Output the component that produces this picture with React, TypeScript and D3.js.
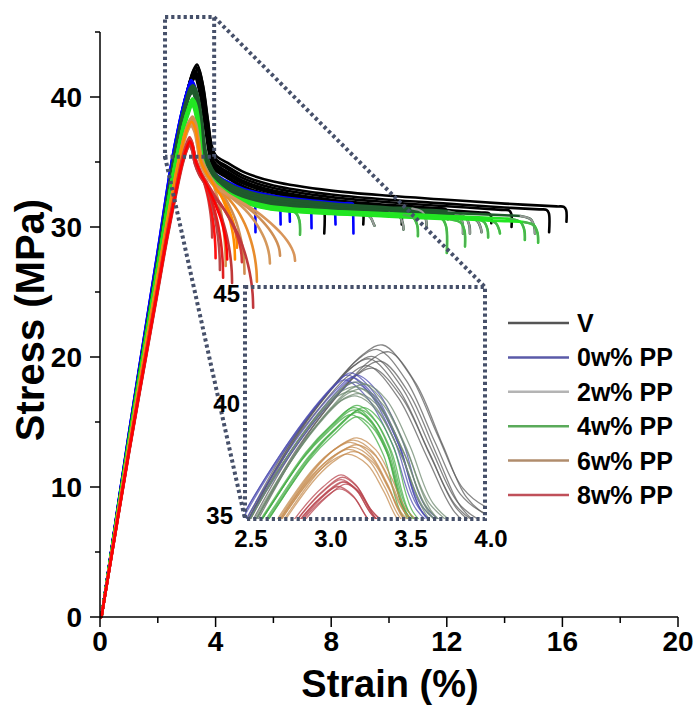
import React from 'react';
import * as d3 from 'd3';

type Pt = [number, number];

// ---------- axis ticks ----------
const xMajorTicks = [0, 4, 8, 12, 16, 20];
const xMinorTicks = [2, 6, 10, 14, 18];
const yMajorTicks = [0, 10, 20, 30, 40];
const yMinorTicks = [5, 15, 25, 35, 45];
const insetXTicks = [2.5, 3.0, 3.5, 4.0];
const insetYTicks = [35, 40, 45];
const insetStrain: Pt = [2.5, 4.0];
const insetStress: Pt = [35, 45];
const zoomBoxStrain: Pt = [2.25, 3.95];
const zoomBoxStress: Pt = [35.4, 46.15];

// ---------- legend ----------
const groupNames = ['V', '0w% PP', '2w% PP', '4w% PP', '6w% PP', '8w% PP'];
const legendColors = ['#555555', '#5a5aa8', '#b4b4b4', '#5aaa5a', '#b08c6c', '#c0505a'];
const insetColors = ['#5e5e5e', '#4e4eb0', '#6f8a70', '#45ad45', '#c68c50', '#b8444e'];

// ---------- group templates (strain %, stress MPa) ----------
const riseV: Pt[] = [[0.05, 0], [1, 13.9], [2, 27.8], [2.5, 34.7], [2.8, 38.4], [3.05, 40.7], [3.2, 41.8], [3.32, 42.2]];
const postV: Pt[] = [[3.5, 40.8], [3.68, 38.1], [3.84, 35.8], [4.0, 34.9], [4.4, 34.2], [5, 33.4], [6, 32.7], [8, 32.0], [10, 31.6], [12, 31.3], [14, 31.0], [16.5, 30.7]];
const rise0: Pt[] = [[0.05, 0], [1, 14.0], [2, 27.9], [2.5, 35.0], [2.74, 37.7], [2.95, 39.7], [3.08, 40.7], [3.16, 41.1]];
const post0: Pt[] = [[3.3, 40.3], [3.45, 38.3], [3.6, 35.4], [3.8, 34.3], [4.0, 33.8], [4.4, 33.2], [5, 32.6], [6, 32.1], [8, 31.6], [10, 31.3]];
const rise2: Pt[] = [[0.05, 0], [1, 13.7], [2, 27.3], [2.5, 34.3], [2.8, 37.8], [3.0, 39.6], [3.12, 40.4], [3.22, 40.6]];
const post2: Pt[] = [[3.35, 39.9], [3.5, 37.9], [3.65, 35.4], [3.85, 34.2], [4.0, 33.7], [4.4, 33.0], [5, 32.4], [6, 31.9], [8, 31.4], [10, 31.1], [12, 30.9], [14, 30.7], [16, 30.5]];
const rise4: Pt[] = [[0.05, 0], [1, 13.5], [2, 26.9], [2.5, 33.6], [2.7, 35.8], [2.9, 37.8], [3.05, 38.9], [3.2, 39.7]];
const post4: Pt[] = [[3.3, 39.2], [3.4, 37.9], [3.52, 35.2], [3.7, 34.1], [4.0, 33.3], [4.6, 32.3], [5.78, 31.5], [8, 31.1], [10, 30.9], [12, 30.7], [14, 30.5], [16, 30.3]];
const rise6: Pt[] = [[0.05, 0], [1, 13.1], [2, 26.2], [2.4, 31.3], [2.72, 35.0], [2.95, 37.2], [3.08, 38.0], [3.18, 38.3]];
const post6: Pt[] = [[3.3, 37.8], [3.4, 36.6], [3.5, 35.2], [3.7, 34.2], [4.0, 33.2], [4.5, 32.4], [5, 31.9], [5.5, 31.4], [6, 30.9], [7, 30.0]];
const rise8: Pt[] = [[0.05, 0], [1, 12.7], [2, 25.3], [2.3, 29.1], [2.6, 32.5], [2.84, 35.0], [3.0, 36.2], [3.11, 36.7]];
const post8: Pt[] = [[3.2, 36.3], [3.3, 35.2], [3.45, 34.3], [3.6, 33.7], [3.8, 33.0], [4.0, 32.4], [4.5, 31.5], [5.5, 30.3]];

// ---------- specimens ----------
const vPeakStress = [42.5, 42.3, 42.0, 41.9, 41.8, 41.6, 41.5, 42.2];
const vPeakStrain = [3.36, 3.33, 3.30, 3.28, 3.35, 3.27, 3.30, 3.40];
const vShift = [0.8, 0.5, 0.1, -0.1, -0.3, -0.4, 0.0, 0.3];
const vEndStrain = [16.1, 15.5, 12.0, 10.4, 9.07, 7.72, 13.5, 14.2];
const vEndStress = [30.4, 29.6, 30.6, 30.2, 30.2, 29.5, 30.3, 30.0];

const p0PeakStress = [41.3, 41.2, 41.1, 41.0, 40.9, 41.2];
const p0PeakStrain = [3.16, 3.14, 3.17, 3.12, 3.18, 3.2];
const p0Shift = [0.2, 0.0, -0.2, 0.1, -0.1, 0.3];
const p0EndStrain = [5.36, 6.23, 6.55, 7.3, 8.13, 8.75];
const p0EndStress = [29.6, 30.2, 30.4, 29.9, 30.2, 29.5];

const p2PeakStress = [40.9, 40.7, 40.6, 40.5, 40.4, 40.8, 40.3];
const p2PeakStrain = [3.22, 3.2, 3.24, 3.18, 3.22, 3.26, 3.2];
const p2Shift = [0.3, 0.1, -0.1, 0.2, 0.0, 0.4, -0.2];
const p2EndStrain = [12.56, 12.8, 13.2, 15.05, 10.5, 11.3, 9.5];
const p2EndStress = [29.5, 29.5, 29.6, 29.5, 29.8, 30.0, 30.1];

const p4PeakStress = [39.9, 39.8, 39.7, 39.6, 39.5, 39.8, 39.4, 39.7];
const p4PeakStrain = [3.2, 3.18, 3.22, 3.2, 3.16, 3.24, 3.2, 3.18];
const p4Shift = [0.0, 0.1, -0.1, 0.05, 0.0, 0.15, -0.05, 0.1];
const p4EndStrain = [6.92, 12.0, 12.63, 13.43, 13.84, 14.7, 15.16, 11.0];
const p4EndStress = [29.4, 28.0, 28.5, 29.2, 29.5, 29.0, 28.8, 29.3];

const p6PeakStress = [38.4, 38.3, 38.2, 38.0, 37.9, 38.5, 37.8, 38.1];
const p6PeakStrain = [3.18, 3.16, 3.2, 3.15, 3.18, 3.2, 3.14, 3.17];
const p6Peel = [3.75, 3.8, 3.9, 4.0, 4.1, 4.2, 4.3, 3.7];
const p6EndStrain = [4.35, 4.67, 5.0, 5.43, 5.88, 6.23, 6.75, 4.74];
const p6EndStress = [27.0, 27.5, 26.4, 25.8, 27.2, 27.8, 27.4, 28.4];
const p6Colors = ['#d9934f', '#ff8c00', '#d08c50', '#e88c2c', '#d4985c', '#cf8f55', '#d8955a', '#ff8800'];

const p8PeakStress = [36.8, 36.7, 36.6, 36.4, 36.5, 36.9, 36.3, 36.6];
const p8PeakStrain = [3.11, 3.1, 3.12, 3.08, 3.13, 3.1, 3.09, 3.11];
const p8Peel = [3.4, 3.45, 3.5, 3.55, 3.6, 3.65, 3.7, 3.5];
const p8EndStrain = [3.88, 4.0, 4.15, 4.26, 4.57, 4.91, 5.3, 4.4];
const p8EndStress = [29.2, 27.6, 26.7, 26.1, 25.7, 27.3, 23.8, 27.5];
const p8Colors = ['#c84040', '#ff1010', '#b84848', '#e02020', '#c03838', '#d03a3a', '#c0383c', '#ff0000'];

type Hook = 'corner' | 'drop' | 'round' | 'arc';
interface Group {
  rise: Pt[]; post: Pt[]; peakStress: number[]; peakStrain: number[]; shift: number[];
  endStrain: number[]; endStress: number[]; peel?: number[]; hook: Hook;
  colors: string[]; hookColor?: string;
}

const groups: Group[] = [
  { rise: riseV, post: postV, peakStress: vPeakStress, peakStrain: vPeakStrain, shift: vShift, endStrain: vEndStrain, endStress: vEndStress, hook: 'corner', colors: vPeakStress.map(() => '#000000') },
  { rise: rise0, post: post0, peakStress: p0PeakStress, peakStrain: p0PeakStrain, shift: p0Shift, endStrain: p0EndStrain, endStress: p0EndStress, hook: 'drop', colors: p0PeakStress.map(() => '#0000ff') },
  { rise: rise2, post: post2, peakStress: p2PeakStress, peakStrain: p2PeakStrain, shift: p2Shift, endStrain: p2EndStrain, endStress: p2EndStress, hook: 'round', colors: p2PeakStress.map(() => '#1f5a2c'), hookColor: '#9a9a9a' },
  { rise: rise4, post: post4, peakStress: p4PeakStress, peakStrain: p4PeakStrain, shift: p4Shift, endStrain: p4EndStrain, endStress: p4EndStress, hook: 'round', colors: p4PeakStress.map(() => '#22e622'), hookColor: '#4fae52' },
  { rise: rise6, post: post6, peakStress: p6PeakStress, peakStrain: p6PeakStrain, shift: p6PeakStress.map(() => 0), endStrain: p6EndStrain, endStress: p6EndStress, peel: p6Peel, hook: 'arc', colors: p6Colors },
  { rise: rise8, post: post8, peakStress: p8PeakStress, peakStrain: p8PeakStrain, shift: p8PeakStress.map(() => 0), endStrain: p8EndStrain, endStress: p8EndStress, peel: p8Peel, hook: 'arc', colors: p8Colors },
];

const clamp01 = (v: number) => Math.max(0, Math.min(1, v));

function specimen(g: Group, i: number): { pts: Pt[]; hookN: number } {
  const pk = g.rise[g.rise.length - 1];
  const px = g.peakStrain[i], py = g.peakStress[i];
  const dX = px - pk[0], dY = py - pk[1];
  const sh = g.shift[i];
  const rise: Pt[] = g.rise.map(([x, y]) => [x * px / pk[0], y * py / pk[1]] as Pt);
  const post: Pt[] = g.post.map(([x, y]) => {
    const w = clamp01((x - pk[0]) / 1.2);
    return [x + dX * (1 - w), y + dY * (1 - w) + sh * w] as Pt;
  });
  const all = [rise[rise.length - 1], ...post];
  const s = d3.scaleLinear().domain(all.map((p) => p[0])).range(all.map((p) => p[1]));
  const xf = g.endStrain[i], sf = g.endStress[i];
  if (g.peel) {
    const xb = g.peel[i];
    const D = s(xf) - sf;
    const L = xf - xb;
    const arc: Pt[] = d3.range(0, 11).map((k) => {
      const th = (k / 10) * Math.PI / 2;
      const x = xb + L * Math.sin(th);
      return [x, s(x) - D * (1 - Math.cos(th))] as Pt;
    });
    return { pts: [...rise, ...post.filter((p) => p[0] < xb - 0.05), ...arc], hookN: 7 };
  }
  const sE = s(xf);
  let hook: Pt[];
  if (g.hook === 'drop') {
    hook = [[xf - 0.3, s(xf - 0.3)], [xf, sE], [xf + 0.01, sE - 0.6], [xf + 0.02, sf]];
  } else if (g.hook === 'corner') {
    hook = [[xf - 0.3, s(xf - 0.3)], [xf - 0.05, sE], [xf + 0.03, sE - 0.25], [xf + 0.04, sf]];
  } else {
    hook = [[xf - 0.5, s(xf - 0.5)], [xf - 0.15, sE - 0.2], [xf - 0.02, sE - 0.8], [xf, sf]];
  }
  return { pts: [...rise, ...post.filter((p) => p[0] < xf - 0.6), ...hook], hookN: 4 };
}

const FONT = "'Liberation Sans', Arial, Helvetica, sans-serif";

export default function App() {
  const W = 697, H = 705;
  const x = d3.scaleLinear().domain([0, 20]).range([100, 678]);
  const y = d3.scaleLinear().domain([0, 45]).range([617, 32]);
  const xi = d3.scaleLinear().domain(insetStrain).range([245, 485]);
  const yi = d3.scaleLinear().domain(insetStress).range([519, 287]);

  const curve = d3.curveCatmullRom.alpha(0.5);
  const lineMain = d3.line<Pt>().x((d) => x(d[0])).y((d) => y(d[1])).curve(curve);
  const lineInset = d3.line<Pt>().x((d) => xi(d[0])).y((d) => yi(d[1])).curve(curve);

  const specs = groups.map((g) => g.peakStress.map((_, i) => specimen(g, i)));

  const dot = { stroke: '#46506a', strokeWidth: 4, strokeDasharray: '3.2 3', fill: 'none' };

  const legendY = d3.scaleLinear().domain([0, 5]).range([323, 495]);

  return (
    <svg width={W} height={H} style={{ position: 'absolute', left: 0, top: 0, background: '#fff' }} fontFamily={FONT}>
      <defs>
        <clipPath id="insetClip">
          <rect x={xi(insetStrain[0])} y={yi(insetStress[1])} width={xi(insetStrain[1]) - xi(insetStrain[0])} height={yi(insetStress[0]) - yi(insetStress[1])} />
        </clipPath>
      </defs>

      {/* main curves */}
      <g fill="none" strokeLinejoin="round" strokeLinecap="round">
        {specs.map((gs, gi) =>
          gs.map((sp, i) => (
            <g key={`m${gi}-${i}`}>
              <path d={lineMain(sp.pts) || ''} stroke={groups[gi].colors[i]} strokeWidth={2.6} />
              {groups[gi].hookColor && (
                <path d={lineMain(sp.pts.slice(-sp.hookN)) || ''} stroke={groups[gi].hookColor} strokeWidth={2} />
              )}
            </g>
          ))
        )}
      </g>

      {/* axes */}
      <g stroke="#000" strokeWidth={1.5}>
        <line x1={x(0)} x2={x(20)} y1={y(0)} y2={y(0)} />
        <line x1={x(0)} x2={x(0)} y1={y(0)} y2={y(45)} />
        {xMajorTicks.map((t) => <line key={`xM${t}`} x1={x(t)} x2={x(t)} y1={y(0)} y2={y(0) + 10} />)}
        {xMinorTicks.map((t) => <line key={`xm${t}`} x1={x(t)} x2={x(t)} y1={y(0)} y2={y(0) + 6} />)}
        {yMajorTicks.map((t) => <line key={`yM${t}`} x1={x(0) - 10} x2={x(0)} y1={y(t)} y2={y(t)} />)}
        {yMinorTicks.map((t) => <line key={`ym${t}`} x1={x(0) - 5} x2={x(0)} y1={y(t)} y2={y(t)} />)}
      </g>
      <g fontSize={28} fontWeight="bold" fill="#000">
        {xMajorTicks.map((t) => (
          <text key={`xl${t}`} x={x(t)} y={y(0) + 34} textAnchor="middle">{t}</text>
        ))}
        {yMajorTicks.map((t) => (
          <text key={`yl${t}`} x={x(0) - 18} y={y(t)} dy="0.36em" textAnchor="end">{t}</text>
        ))}
      </g>
      <text x={390} y={697} textAnchor="middle" fontSize={38} fontWeight="bold">Strain (%)</text>
      <text transform={`translate(44,320) rotate(-90)`} textAnchor="middle" fontSize={40} fontWeight="bold">Stress (MPa)</text>

      {/* zoom box and connectors */}
      <rect x={x(zoomBoxStrain[0])} y={y(zoomBoxStress[1])} width={x(zoomBoxStrain[1]) - x(zoomBoxStrain[0])} height={y(zoomBoxStress[0]) - y(zoomBoxStress[1])} {...dot} />
      <line x1={x(zoomBoxStrain[1])} y1={y(zoomBoxStress[1])} x2={xi(insetStrain[1])} y2={yi(insetStress[1])} {...dot} />
      <line x1={x(zoomBoxStrain[0])} y1={y(zoomBoxStress[0])} x2={xi(insetStrain[0])} y2={yi(insetStress[0])} {...dot} />

      {/* inset curves */}
      <g clipPath="url(#insetClip)" fill="none" strokeLinejoin="round">
        {specs.map((gs, gi) =>
          gs.map((sp, i) => (
            <path key={`i${gi}-${i}`} d={lineInset(sp.pts) || ''} stroke={insetColors[gi]} strokeWidth={1.3} strokeOpacity={0.75} />
          ))
        )}
      </g>
      <rect x={xi(insetStrain[0])} y={yi(insetStress[1])} width={xi(insetStrain[1]) - xi(insetStrain[0])} height={yi(insetStress[0]) - yi(insetStress[1])} {...dot} />
      <g fontSize={24} fontWeight="bold" fill="#000">
        {insetXTicks.map((t) => (
          <text key={`ix${t}`} x={xi(t) + 6} y={yi(35) + 28} textAnchor="middle">{t.toFixed(1)}</text>
        ))}
        {insetYTicks.map((t) => (
          <text key={`iy${t}`} x={xi(2.5) - (t === 35 ? 12 : 5)} y={yi(t) + (t === 45 ? 6 : t === 35 ? -4 : 0)} dy="0.36em" textAnchor="end">{t}</text>
        ))}
      </g>

      {/* legend */}
      <g>
        {groupNames.map((n, i) => (
          <g key={n}>
            <line x1={508} x2={569} y1={legendY(i)} y2={legendY(i)} stroke={legendColors[i]} strokeWidth={2.5} />
            <text x={577} y={legendY(i)} dy="0.36em" fontSize={25} fontWeight="bold" fill="#000">{n}</text>
          </g>
        ))}
      </g>
    </svg>
  );
}
